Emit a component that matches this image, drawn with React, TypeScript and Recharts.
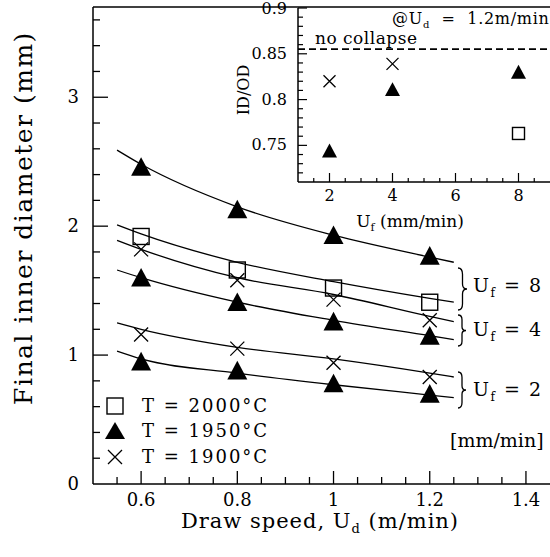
import { ComposedChart, ScatterChart, Line, Scatter, XAxis, YAxis, ReferenceLine } from 'recharts';

const SERIF = '"DejaVu Serif", serif';

// main plot: draw speed Ud (m/min) vs final inner diameter (mm)
const drawSpeeds = [0.6, 0.8, 1.0, 1.2];
const t2000Uf8 = [1.92, 1.66, 1.52, 1.41];
const t1950Uf8 = [2.45, 2.12, 1.92, 1.76];
const t1900Uf4 = [1.82, 1.58, 1.43, 1.27];
const t1950Uf4 = [1.59, 1.40, 1.25, 1.14];
const t1900Uf2 = [1.16, 1.05, 0.94, 0.83];
const t1950Uf2 = [0.94, 0.87, 0.77, 0.69];

// fitted curves
const fitSpeeds = [0.55, 0.6, 0.8, 1.0, 1.2, 1.25];
const fitT1950Uf8 = [2.59, 2.48, 2.15, 1.93, 1.76, 1.72];
const fitT2000Uf8 = [2.01, 1.94, 1.72, 1.57, 1.44, 1.41];
const fitT1900Uf4 = [1.89, 1.82, 1.60, 1.47, 1.30, 1.26];
const fitT1950Uf4 = [1.66, 1.60, 1.41, 1.27, 1.15, 1.12];
const fitT1900Uf2 = [1.25, 1.20, 1.06, 0.97, 0.86, 0.83];
const fitT1950Uf2 = [1.03, 0.97, 0.86, 0.77, 0.69, 0.67];

const mainXTicks = [0.55, 0.6, 0.65, 0.7, 0.75, 0.8, 0.85, 0.9, 0.95, 1, 1.05, 1.1, 1.15, 1.2, 1.25, 1.3, 1.35, 1.4];
const mainYTicks = [0, 0.2, 0.4, 0.6, 0.8, 1, 1.2, 1.4, 1.6, 1.8, 2, 2.2, 2.4, 2.6, 2.8, 3, 3.2, 3.4, 3.6];

// inset: ID/OD vs feed speed Uf at Ud = 1.2 m/min
const insetFeedT1900 = [2, 4];
const insetT1900 = [0.82, 0.839];
const insetFeedT1950 = [2, 4, 8];
const insetT1950 = [0.743, 0.81, 0.829];
const insetFeedT2000 = [8];
const insetT2000 = [0.763];
const noCollapse = 0.855;

const insetXTicks = [1.5, 2, 2.5, 3, 3.5, 4, 4.5, 5, 5.5, 6, 6.5, 7, 7.5, 8, 8.5];
const insetYTicks = [0.72, 0.73, 0.74, 0.75, 0.76, 0.77, 0.78, 0.79, 0.8, 0.81, 0.82, 0.83, 0.84, 0.85, 0.86, 0.87, 0.88, 0.89, 0.9];

const pts = (xs: number[], ys: number[]) => xs.map((x, i) => ({ x, y: ys[i] }));

const tri = (s: number) => (p: any) => (
  <polygon
    points={`${p.cx},${p.cy - s * 0.55} ${p.cx - s / 2},${p.cy + s * 0.38} ${p.cx + s / 2},${p.cy + s * 0.38}`}
    fill="#000"
  />
);
const sq = (s: number) => (p: any) => (
  <rect x={p.cx - s / 2} y={p.cy - s / 2} width={s} height={s} fill="none" stroke="#000" strokeWidth={1.4} />
);
const cross = (s: number) => (p: any) => (
  <path
    d={`M${p.cx - s / 2},${p.cy - s / 2}L${p.cx + s / 2},${p.cy + s / 2}M${p.cx - s / 2},${p.cy + s / 2}L${p.cx + s / 2},${p.cy - s / 2}`}
    stroke="#000"
    strokeWidth={1.3}
  />
);

const near = (a: number, b: number) => Math.abs(a - b) < 1e-6;

const MainXTick = (p: any) => {
  const v = p.payload.value;
  const major = near(v * 5, Math.round(v * 5));
  return (
    <g>
      <line x1={p.x} y1={p.y} x2={p.x} y2={p.y - (major ? 13 : 7)} stroke="#000" strokeWidth={1.3} />
      {major && (
        <text x={p.x} y={p.y + 22} textAnchor="middle" fontSize={18} fontFamily={SERIF}>
          {String(v)}
        </text>
      )}
    </g>
  );
};

const MainYTick = (p: any) => {
  const v = p.payload.value;
  const major = near(v, Math.round(v));
  return (
    <g>
      {v > 0 && <line x1={p.x} y1={p.y} x2={p.x + (major ? 15 : 7)} y2={p.y} stroke="#000" strokeWidth={1.3} />}
      {major && (
        <text x={p.x - 14} y={p.y + 6} textAnchor="end" fontSize={18} fontFamily={SERIF}>
          {String(v)}
        </text>
      )}
    </g>
  );
};

const InsetXTick = (p: any) => {
  const v = p.payload.value;
  const major = near(v / 2, Math.round(v / 2));
  return (
    <g>
      <line x1={p.x} y1={p.y} x2={p.x} y2={p.y - (major ? 9 : 4)} stroke="#000" strokeWidth={1.2} />
      {major && (
        <text x={p.x} y={p.y + 19} textAnchor="middle" fontSize={16} fontFamily={SERIF}>
          {String(v)}
        </text>
      )}
    </g>
  );
};

const InsetYTick = (p: any) => {
  const v = p.payload.value;
  const major = near(v * 20, Math.round(v * 20));
  return (
    <g>
      <line x1={p.x} y1={p.y} x2={p.x + (major ? 9 : 5)} y2={p.y} stroke="#000" strokeWidth={1.2} />
      {major && (
        <text x={p.x - 11} y={Math.max(p.y + 5, 14)} textAnchor="end" fontSize={16} fontFamily={SERIF}>
          {String(v)}
        </text>
      )}
    </g>
  );
};

const brace = (x: number, y1: number, y2: number, w: number) => {
  const h = y2 - y1;
  const m = (y1 + y2) / 2;
  const c = x + w / 2;
  return `M${x},${y1} Q${c},${y1} ${c},${y1 + h * 0.15} L${c},${m - h * 0.12} Q${c},${m} ${x + w},${m} Q${c},${m} ${c},${m + h * 0.12} L${c},${y2 - h * 0.15} Q${c},${y2} ${x},${y2}`;
};

const fits = [fitT1950Uf8, fitT2000Uf8, fitT1900Uf4, fitT1950Uf4, fitT1900Uf2, fitT1950Uf2];

export default function App() {
  return (
    <div style={{ position: 'relative', width: 550, height: 557, background: '#fff', overflow: 'hidden' }}>
      <style>{'body{margin:0}'}</style>
      <div style={{ position: 'absolute', left: 0, top: 0 }}>
        <ComposedChart width={550} height={557} margin={{ top: 7, right: 0, bottom: 43, left: 33 }}>
          <XAxis
            dataKey="x"
            type="number"
            domain={[0.5, 1.45]}
            ticks={mainXTicks}
            interval={0}
            height={30}
            tickSize={0}
            tickMargin={0}
            tickLine={false}
            tick={MainXTick}
            axisLine={{ stroke: '#000', strokeWidth: 1.5 }}
            allowDataOverflow
          />
          <YAxis
            type="number"
            domain={[0, 3.7]}
            ticks={mainYTicks}
            interval={0}
            width={60}
            tickSize={0}
            tickMargin={0}
            tickLine={false}
            tick={MainYTick}
            axisLine={{ stroke: '#000', strokeWidth: 1.5 }}
            allowDataOverflow
          />
          <ReferenceLine y={3.7} stroke="#000" strokeWidth={1.5} ifOverflow="visible" />
          {fits.map((f, i) => (
            <Line
              key={i}
              data={pts(fitSpeeds, f)}
              dataKey="y"
              type="monotone"
              dot={false}
              stroke="#000"
              strokeWidth={1.3}
              isAnimationActive={false}
            />
          ))}
          <Scatter data={pts(drawSpeeds, t2000Uf8)} dataKey="y" shape={sq(16)} isAnimationActive={false} />
          <Scatter data={pts(drawSpeeds, t1950Uf8)} dataKey="y" shape={tri(20)} isAnimationActive={false} />
          <Scatter data={pts(drawSpeeds, t1900Uf4)} dataKey="y" shape={cross(14)} isAnimationActive={false} />
          <Scatter data={pts(drawSpeeds, t1950Uf4)} dataKey="y" shape={tri(20)} isAnimationActive={false} />
          <Scatter data={pts(drawSpeeds, t1900Uf2)} dataKey="y" shape={cross(14)} isAnimationActive={false} />
          <Scatter data={pts(drawSpeeds, t1950Uf2)} dataKey="y" shape={tri(20)} isAnimationActive={false} />
        </ComposedChart>
      </div>

      <div style={{ position: 'absolute', left: 298, top: 8, width: 252, height: 174, background: '#fff' }} />

      <div style={{ position: 'absolute', left: 235, top: 0 }}>
        <ScatterChart width={315} height={240} margin={{ top: 8, right: 0, bottom: 28, left: 23 }}>
          <XAxis
            dataKey="x"
            type="number"
            domain={[1, 9]}
            ticks={insetXTicks}
            interval={0}
            height={30}
            tickSize={0}
            tickMargin={0}
            tickLine={false}
            tick={InsetXTick}
            axisLine={{ stroke: '#000', strokeWidth: 1.5 }}
            allowDataOverflow
          />
          <YAxis
            dataKey="y"
            type="number"
            domain={[0.71, 0.9]}
            ticks={insetYTicks}
            interval={0}
            width={40}
            tickSize={0}
            tickMargin={0}
            tickLine={false}
            tick={InsetYTick}
            axisLine={{ stroke: '#000', strokeWidth: 1.5 }}
            allowDataOverflow
          />
          <ReferenceLine y={noCollapse} stroke="#000" strokeWidth={1.8} strokeDasharray="7 4" />
          <Scatter data={pts(insetFeedT1900, insetT1900)} shape={cross(12)} isAnimationActive={false} />
          <Scatter data={pts(insetFeedT1950, insetT1950)} shape={tri(15)} isAnimationActive={false} />
          <Scatter data={pts(insetFeedT2000, insetT2000)} shape={sq(12)} isAnimationActive={false} />
        </ScatterChart>
      </div>

      <svg width={550} height={557} style={{ position: 'absolute', left: 0, top: 0, pointerEvents: 'none' }} fontFamily={SERIF}>
        <text transform="translate(32,218) rotate(-90)" textAnchor="middle" fontSize={25} letterSpacing={1.5}>
          Final inner diameter (mm)
        </text>
        <text x={320} y={528} textAnchor="middle" fontSize={21} letterSpacing={1} style={{ whiteSpace: 'pre' }}>
          Draw speed, U<tspan fontSize={13} dy={5}>d</tspan>
          <tspan dy={-5}> (m/min)</tspan>
        </text>

        <text transform="translate(249,90) rotate(-90)" textAnchor="middle" fontSize={16}>
          ID/OD
        </text>
        <text x={410} y={227} textAnchor="middle" fontSize={17} style={{ whiteSpace: 'pre' }}>
          U<tspan fontSize={11} dy={4}>f</tspan>
          <tspan dy={-4}> (mm/min)</tspan>
        </text>
        <text x={315} y={44} fontSize={17} letterSpacing={0.5}>no collapse</text>
        <text x={392} y={24} fontSize={16} letterSpacing={0.7} style={{ whiteSpace: 'pre' }}>
          @U<tspan fontSize={10} dy={4}>d</tspan>
          <tspan dy={-4}>  =  1.2m/min</tspan>
        </text>

        <rect x={107} y={398} width={16} height={16} fill="none" stroke="#000" strokeWidth={1.4} />
        <polygon points="115,422 105,439 125,439" fill="#000" />
        <path d="M108,450L122,464M108,464L122,450" stroke="#000" strokeWidth={1.3} />
        <g fontSize={18} letterSpacing={2} style={{ whiteSpace: 'pre' }}>
          <text x={142} y={412}>T  =  2000°C</text>
          <text x={142} y={437}>T  =  1950°C</text>
          <text x={142} y={463}>T  =  1900°C</text>
        </g>

        <g fill="none" stroke="#000" strokeWidth={1.3}>
          <path d={brace(458, 268, 310, 9)} />
          <path d={brace(458, 315, 346, 8)} />
          <path d={brace(458, 372, 408, 8)} />
        </g>
        <g fontSize={19} style={{ whiteSpace: 'pre' }}>
          <text x={473} y={292} letterSpacing={1.5}>
            U<tspan fontSize={12} dy={5}>f</tspan>
            <tspan dy={-5}>  =  8</tspan>
          </text>
          <text x={473} y={336} letterSpacing={1.5}>
            U<tspan fontSize={12} dy={5}>f</tspan>
            <tspan dy={-5}>  =  4</tspan>
          </text>
          <text x={473} y={396} letterSpacing={1.5}>
            U<tspan fontSize={12} dy={5}>f</tspan>
            <tspan dy={-5}>  =  2</tspan>
          </text>
          <text x={450} y={447}>[mm/min]</text>
        </g>
      </svg>
    </div>
  );
}
